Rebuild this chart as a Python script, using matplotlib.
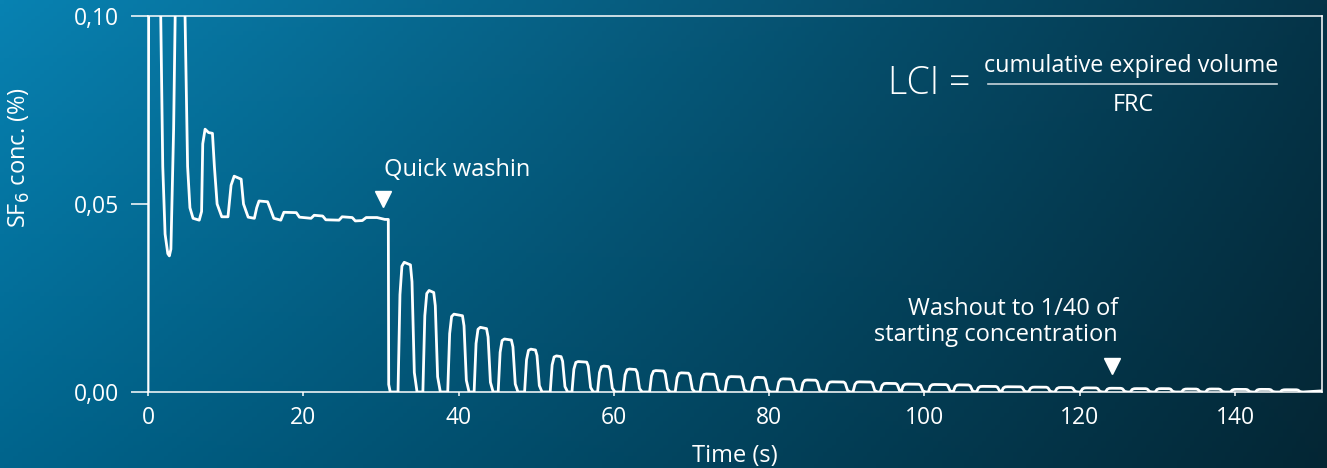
import matplotlib
matplotlib.use('Agg')
import matplotlib.pyplot as plt
from matplotlib.lines import Line2D
import numpy as np

plt.rcParams['font.family'] = ['Open Sans', 'DejaVu Sans']

# wash-in phase (time s, SF6 %)
washin_t = [0.0, 0.1, 1.3, 1.64, 1.9, 2.2, 2.55, 2.75, 2.95, 3.3, 3.5, 3.7, 4.5, 4.77,
            5.1, 5.4, 5.8, 6.6, 6.9, 7.05, 7.35, 7.8, 8.3, 8.55, 8.9, 9.5, 10.3, 10.7,
            11.1, 12.0, 12.3, 12.9, 13.7, 14.0, 14.3, 15.4, 15.7, 16.2, 17.1, 17.5,
            19.1, 19.5, 21.0, 21.4, 22.5, 22.9, 24.6, 25.0, 26.3, 26.7, 27.6, 28.1,
            29.5, 30.5, 30.95, 31.0, 31.2]
washin_c = [0.0, 0.12, 0.12, 0.10, 0.06, 0.042, 0.0368, 0.0362, 0.038, 0.07, 0.10, 0.12,
            0.12, 0.10, 0.06, 0.049, 0.0462, 0.0457, 0.048, 0.066, 0.0699, 0.069, 0.0688,
            0.060, 0.050, 0.0466, 0.0466, 0.055, 0.0574, 0.0566, 0.050, 0.0465, 0.0462,
            0.049, 0.0508, 0.0506, 0.049, 0.0462, 0.0457, 0.0478, 0.0477, 0.0465, 0.0462,
            0.047, 0.0468, 0.0458, 0.0457, 0.0466, 0.0464, 0.0455, 0.0456, 0.0464, 0.0464,
            0.0459, 0.0459, 0.002, 0.0]

# washout breaths: expiration start, end, plateau (SF6 %)
breath_start = [32.5, 35.7, 38.9, 42.3, 45.4, 48.8, 52.1, 54.9, 58.2, 61.5, 64.9, 68.2,
                71.4, 74.6, 78.0, 81.3, 84.4, 87.6, 91.1, 94.6, 97.3, 100.8, 104.0,
                107.0, 110.2, 113.7, 117.1, 120.4, 123.6, 126.8, 130.0, 133.4, 136.5,
                139.7, 142.9, 146.1]
breath_end = [34.0, 37.0, 40.7, 43.8, 47.0, 50.1, 53.4, 56.7, 59.5, 63.0, 66.6, 69.8,
              73.1, 76.5, 79.5, 83.0, 86.2, 89.8, 93.3, 96.5, 99.5, 103.0, 105.9, 109.4,
              112.6, 115.9, 119.1, 122.3, 125.5, 128.7, 131.7, 135.2, 138.1, 141.6,
              144.6, 148.1]
breath_peak = [0.0345, 0.027, 0.0207, 0.0172, 0.0141, 0.0114, 0.0096, 0.0081, 0.0069,
               0.0061, 0.0057, 0.0051, 0.0048, 0.0041, 0.0039, 0.0035, 0.0032, 0.0027,
               0.0027, 0.0023, 0.0021, 0.0020, 0.0019, 0.0015, 0.0014, 0.0013, 0.0012,
               0.0011, 0.0010, 0.0009, 0.0009, 0.0008, 0.0008, 0.0007, 0.0007, 0.0006]

x_ticks = [0, 20, 40, 60, 80, 100, 120, 140]
y_ticks = [0.0, 0.05, 0.10]
y_tick_labels = ['0,00', '0,05', '0,10']

# build the trace
t = list(washin_t)
c = list(washin_c)
for ts, te, p in zip(breath_start, breath_end, breath_peak):
    t += [ts - 0.3, ts - 0.05, ts + 0.2, ts + 0.5, te - 0.2, te, te + 0.3, te + 0.65]
    c += [0.0, 0.75 * p, 0.97 * p, p, 0.98 * p, 0.85 * p, 0.15 * p, 0.0]
t += [151.2]
c += [0.0003]

W, H = 1327, 468
fig = plt.figure(figsize=(W / 100, H / 100), dpi=100)

# background gradient
bg = fig.add_axes([0, 0, 1, 1], zorder=-10)
tl = np.array([8, 130, 178]) / 255
tr = np.array([5, 52, 72]) / 255
bl = np.array([0, 100, 140]) / 255
br = np.array([4, 38, 52]) / 255
u = np.linspace(0, 1, 300)[None, :, None]
v = np.linspace(0, 1, 120)[:, None, None]
img = (1 - v) * ((1 - u) * tl + u * tr) + v * ((1 - u) * bl + u * br)
bg.imshow(img, aspect='auto', extent=[0, 1, 0, 1], origin='upper')
bg.axis('off')

ax = fig.add_axes([148 / W, (H - 392) / H, 1174 / W, 376 / H])
ax.patch.set_alpha(0)
ax.plot(t, c, color='white', lw=2.0, solid_joinstyle='round', clip_on=True)
ax.set_xlim(0, 151.2)
ax.set_ylim(0, 0.10)

for s in ax.spines.values():
    s.set_color('white')
    s.set_linewidth(1.1)

ax.set_xticks(x_ticks)
ax.set_yticks(y_ticks)
ax.set_yticklabels(y_tick_labels)
ax.tick_params(axis='y', direction='out', length=12, width=1.1, colors='white',
               labelsize=16.5, pad=9)
ax.tick_params(axis='x', direction='out', length=3, width=1.1, colors='white',
               labelsize=16.5, pad=7)

ax.set_xlabel('Time (s)', color='white', fontsize=17, labelpad=10)
ax.set_ylabel('SF$_6$ conc. (%)', color='white', fontsize=17)
ax.yaxis.set_label_coords(-0.099, 0.625)

# annotations
ax.text(30.4, 0.059, 'Quick washin', color='white', fontsize=17, va='center', ha='left')
ax.plot([30.3], [0.0512], marker='v', ms=12, color='white', clip_on=False)
ax.text(124.9, 0.0186, 'Washout to 1/40 of\nstarting concentration', color='white',
        fontsize=17, va='center', ha='right', multialignment='right', linespacing=1.15)
ax.plot([124.2], [0.0068], marker='v', ms=12, color='white', clip_on=False)

# LCI formula
fig.text(888 / W, 1 - 84 / H, 'LCI =', color='white', fontsize=27, fontweight='light',
         ha='left', va='center')
fig.text(1131 / W, 1 - 72 / H, 'cumulative expired volume', color='white', fontsize=16.8,
         ha='center', va='baseline')
fig.text(1133 / W, 1 - 105 / H, 'FRC', color='white', fontsize=16.8, ha='center',
         va='center')
fig.add_artist(Line2D([988 / W, 1277 / W], [1 - 84 / H, 1 - 84 / H],
                      color='#c8d4da', lw=1.2, transform=fig.transFigure))

fig.savefig('out.png', dpi=100)
